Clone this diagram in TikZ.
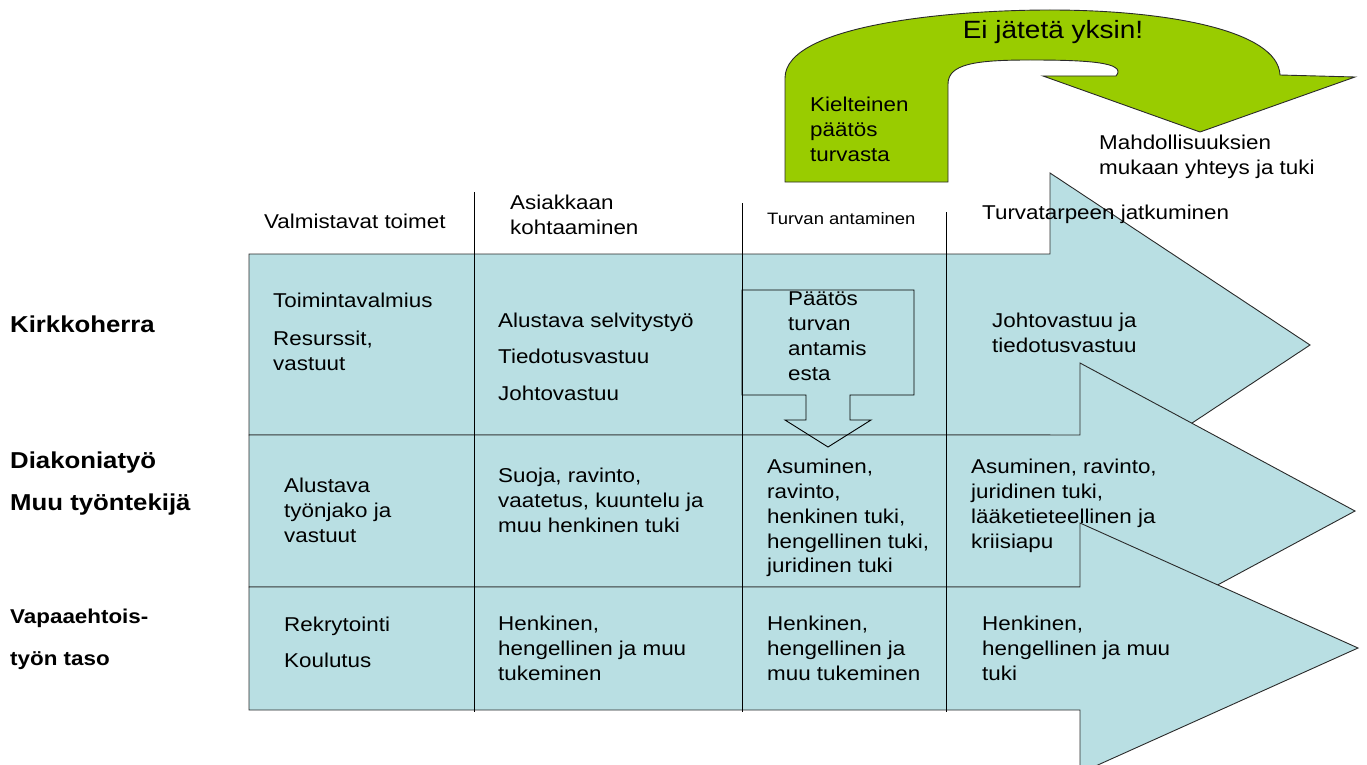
\documentclass[tikz,border=0pt]{standalone}
\usepackage{fontspec}
\setmainfont{Liberation Sans}[FakeStretch=1.12]
\definecolor{rowblue}{HTML}{B9DFE3}
\definecolor{kgreen}{HTML}{99CC00}
\definecolor{edge}{HTML}{2A2A2A}
\tikzset{
  band/.style={fill=rowblue, draw=edge, line width=0.9pt, line join=miter},
  greenarrow/.style={fill=kgreen, draw=edge, line width=0.9pt, line join=miter},
  colline/.style={draw=black, line width=0.9pt},
  downarrow/.style={draw=black, line width=0.9pt, line join=miter},
  cell/.style={anchor=north west, inner sep=0pt, align=left, font=\fontsize{20}{24.8}\selectfont},
  smallcell/.style={anchor=north west, inner sep=0pt, align=left, font=\fontsize{16.5}{20}\selectfont},
  rowlbl/.style={anchor=north west, inner sep=0pt, font=\fontsize{23}{28}\selectfont\bfseries},
  rowlblsmall/.style={anchor=north west, inner sep=0pt, font=\fontsize{20}{24}\selectfont\bfseries},
  title/.style={anchor=base, inner sep=0pt, font=\fontsize{25}{30}\selectfont}
}
\begin{document}
\begin{tikzpicture}[x=1pt,y=-1pt]
\useasboundingbox (0,0) rectangle (1367,765);
\clip (0,0) rectangle (1367,765);

% blue row arrows
\draw[band] (249,254) -- (1050,254) -- (1050,173) -- (1310,345) -- (1050,517) -- (1050,435) -- (249,435) -- cycle;
\draw[band] (249,435) -- (1080,435) -- (1080,363) -- (1355,511) -- (1080,659) -- (1080,587) -- (249,587) -- cycle;
\draw[band] (249,587) -- (1080,587) -- (1080,523) -- (1358,648) -- (1080,773) -- (1080,710) -- (249,710) -- cycle;

% column lines
\coordinate (c1t) at (474,192); \coordinate (c1b) at (474,712);
\coordinate (c2t) at (742,203); \coordinate (c2b) at (742,712);
\coordinate (c3t) at (946,212); \coordinate (c3b) at (946,712);
\draw[colline] (c1t) -- (c1b);
\draw[colline] (c2t) -- (c2b);
\draw[colline] (c3t) -- (c3b);

% down arrow (decision)
\draw[downarrow] (742,290) -- (914,290) -- (914,395) -- (850,395) -- (850,420) -- (871,420) -- (828,447) -- (785,420) -- (806,420) -- (806,395) -- (742,395) -- cycle;

% green U-turn arrow
\draw[greenarrow] (785,182) -- (785,78)
  .. controls (785,25) and (950,10) .. (1050,10)
  .. controls (1165,10) and (1278,30) .. (1280,75)
  -- (1355,77) -- (1200,132) -- (1043,76) -- (1116,76)
  .. controls (1128,62) and (1085,60) .. (1030,60)
  .. controls (975,60) and (948,64) .. (948,84)
  -- (948,182) -- cycle;

% green texts
\node[title] (eij) at (1053,39) {Ei jätetä yksin!};
\node[cell] (kiel) at (810,97) {Kielteinen\\päätös\\turvasta};
\node[cell] (mahd) at (1099,135) {Mahdollisuuksien\\mukaan yhteys ja tuki};

% headers
\node[cell] (h1) at (264,214) {Valmistavat toimet};
\node[cell] (h2) at (510,195) {Asiakkaan\\kohtaaminen};
\node[smallcell] (h3) at (767,212) {Turvan antaminen};
\node[cell] (h4) at (982,205) {Turvatarpeen jatkuminen};

% row labels
\node[rowlbl] (r1) at (10,316) {Kirkkoherra};
\node[rowlbl] (r2a) at (10,452) {Diakoniatyö};
\node[rowlbl] (r2b) at (10,494) {Muu työntekijä};
\node[rowlblsmall] (r3a) at (10,609) {Vapaaehtois-};
\node[rowlblsmall] (r3b) at (10,651) {työn taso};

% row 1
\node[cell] (a1) at (273,293) {Toimintavalmius};
\node[cell] (a2) at (273,331) {Resurssit,\\vastuut};
\node[cell] (b1) at (498,313) {Alustava selvitystyö};
\node[cell] (b2) at (498,349) {Tiedotusvastuu};
\node[cell] (b3) at (498,386) {Johtovastuu};
\node[cell] (c1) at (788,292) {Päätös\\turvan\\antamis\\esta};
\node[cell] (d1) at (992,313) {Johtovastuu ja\\tiedotusvastuu};

% row 2
\node[cell] (a3) at (284,478) {Alustava\\työnjako ja\\vastuut};
\node[cell] (b4) at (498,468) {Suoja, ravinto,\\vaatetus, kuuntelu ja\\muu henkinen tuki};
\node[cell] (c2) at (767,459) {Asuminen,\\ravinto,\\henkinen tuki,\\hengellinen tuki,\\juridinen tuki};
\node[cell] (d2) at (971,459) {Asuminen, ravinto,\\juridinen tuki,\\lääketieteellinen ja\\kriisiapu};

% row 3
\node[cell] (a4) at (284,617) {Rekrytointi};
\node[cell] (a5) at (284,653) {Koulutus};
\node[cell] (b5) at (498,616) {Henkinen,\\hengellinen ja muu\\tukeminen};
\node[cell] (c3) at (767,616) {Henkinen,\\hengellinen ja\\muu tukeminen};
\node[cell] (d3) at (982,616) {Henkinen,\\hengellinen ja muu\\tuki};
\end{tikzpicture}
\end{document}
